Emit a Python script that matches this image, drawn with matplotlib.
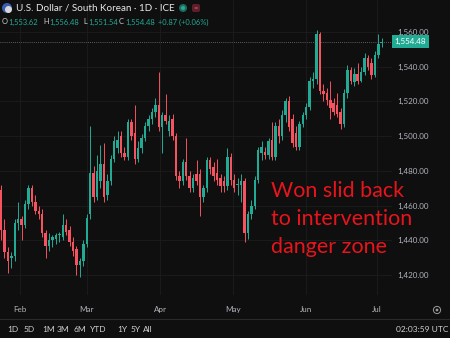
import numpy as np
import matplotlib.pyplot as plt
from matplotlib.patches import Circle, FancyBboxPatch

# daily candles, USD/KRW (oldest first)
opens = [1469, 1446, 1433, 1430, 1431, 1450, 1452, 1449, 1461, 1470,
         1462, 1457, 1455, 1444, 1437, 1440, 1441, 1443, 1442, 1449,
         1446, 1439, 1435, 1426, 1428, 1438, 1455, 1479, 1465, 1474,
         1484, 1466, 1474, 1487, 1493, 1500, 1490, 1488, 1508, 1502,
         1487, 1493, 1499, 1506, 1510, 1514, 1518, 1505, 1512, 1503,
         1510, 1500, 1477, 1474, 1485, 1477, 1470, 1478, 1478, 1465,
         1470, 1486, 1482, 1479, 1476, 1474, 1471, 1488, 1475, 1472,
         1472, 1474, 1444, 1455, 1460, 1475, 1490, 1491, 1489, 1498,
         1488, 1506, 1500, 1512, 1520, 1510, 1502, 1494, 1507, 1512,
         1517, 1532, 1533, 1559, 1526, 1525, 1521, 1519, 1518, 1514,
         1507, 1525, 1538, 1531, 1536, 1532, 1537, 1545, 1542, 1535,
         1547, 1553.62]
highs = [1472, 1452, 1436, 1433, 1452, 1462, 1454, 1463, 1472, 1472,
         1466, 1460, 1458, 1446, 1444, 1443, 1444, 1445, 1455, 1452,
         1448, 1442, 1437, 1430, 1440, 1455, 1506, 1483, 1489, 1495,
         1496, 1478, 1489, 1500, 1503, 1503, 1494, 1510, 1510, 1518,
         1497, 1501, 1508, 1512, 1516, 1522, 1537, 1514, 1524, 1512,
         1513, 1502, 1480, 1487, 1499, 1480, 1478, 1486, 1481, 1472,
         1488, 1488, 1485, 1487, 1478, 1477, 1493, 1490, 1478, 1476,
         1478, 1476, 1457, 1463, 1477, 1494, 1497, 1494, 1499, 1508,
         1508, 1510, 1515, 1522, 1523, 1513, 1506, 1509, 1514, 1519,
         1534, 1537, 1561, 1560, 1530, 1528, 1532, 1522, 1525, 1516,
         1527, 1541, 1540, 1539, 1542, 1540, 1548, 1547, 1545, 1549,
         1559, 1556.48]
lows = [1440, 1430, 1421, 1424, 1428, 1446, 1440, 1447, 1458, 1460,
        1455, 1452, 1442, 1430, 1434, 1436, 1438, 1439, 1440, 1443,
        1437, 1431, 1420, 1419, 1425, 1436, 1452, 1462, 1463, 1470,
        1462, 1463, 1472, 1485, 1490, 1488, 1486, 1486, 1498, 1484,
        1485, 1490, 1497, 1503, 1507, 1511, 1503, 1490, 1507, 1500,
        1498, 1475, 1470, 1472, 1475, 1468, 1468, 1472, 1454, 1462,
        1468, 1478, 1474, 1472, 1468, 1468, 1469, 1472, 1468, 1466,
        1462, 1439, 1441, 1452, 1458, 1473, 1486, 1487, 1487, 1486,
        1486, 1496, 1498, 1508, 1503, 1494, 1492, 1492, 1505, 1510,
        1515, 1528, 1530, 1524, 1520, 1518, 1510, 1512, 1511, 1504,
        1505, 1522, 1530, 1529, 1530, 1531, 1535, 1538, 1533, 1534,
        1545, 1551.54]
closes = [1446, 1433, 1428, 1431, 1450, 1452, 1449, 1461, 1470, 1462,
          1457, 1455, 1444, 1437, 1440, 1442, 1443, 1443, 1449, 1445,
          1439, 1434, 1426, 1428, 1438, 1453, 1479, 1465, 1480, 1484,
          1465, 1474, 1487, 1497, 1498, 1490, 1488, 1508, 1500, 1487,
          1493, 1499, 1506, 1510, 1514, 1518, 1505, 1512, 1509, 1509,
          1500, 1477, 1474, 1485, 1477, 1470, 1476, 1474, 1465, 1470,
          1486, 1481, 1477, 1475, 1471, 1471, 1488, 1475, 1470, 1472,
          1474, 1444, 1455, 1460, 1475, 1492, 1494, 1489, 1497, 1488,
          1506, 1500, 1512, 1520, 1505, 1496, 1494, 1507, 1512, 1517,
          1532, 1533, 1559, 1526, 1524, 1521, 1516, 1514, 1513, 1507,
          1525, 1538, 1532, 1536, 1532, 1537, 1545, 1540, 1535, 1547,
          1553, 1554.48]

month_labels = ['Feb', 'Mar', 'Apr', 'May', 'Jun', 'Jul']
month_pos = [5.4, 25, 46.4, 67.6, 89, 109.6]
price_ticks = [1420, 1440, 1460, 1480, 1500, 1520, 1540, 1560]
range_buttons = ['1D', '5D', '1M', '3M', '6M', 'YTD', '1Y', '5Y', 'All']
range_x = [7, 24, 42, 57, 73, 90, 117, 131, 143]
note_lines = ['Won slid back', 'to intervention', 'danger zone']

BG = '#0f0f0f'
UP, DOWN = '#22ab94', '#f7525f'
TXT = '#b2b5be'

plt.rcParams['font.family'] = ['Lato', 'DejaVu Sans']

fig = plt.figure(figsize=(4.5, 3.38), dpi=100, facecolor=BG)
ax = fig.add_axes([0, 43/338, 392/450, 295/338], facecolor=BG)

o, h, l, c = map(np.array, (opens, highs, lows, closes))
idx = np.arange(len(c))
col = np.where(c >= o, UP, DOWN)
body_lo = np.minimum(o, c)
body_h = np.maximum(np.abs(c - o), 0.6)

ax.vlines(idx, l, h, colors=col, lw=0.7, zorder=2)
ax.bar(idx, body_h, bottom=body_lo, width=0.72, color=col, lw=0, zorder=3)

ax.set_xlim(-0.3, 114)
ax.set_ylim(1408.5, 1578.4)

ax.set_xticks(month_pos)
ax.set_xticklabels(month_labels)
ax.set_yticks(price_ticks)
ax.set_yticklabels([f'{v:,.2f}' for v in price_ticks])
ax.yaxis.tick_right()
ax.tick_params(axis='x', length=0, pad=8, labelsize=5.8, colors=TXT)
ax.tick_params(axis='y', length=0, pad=4, labelsize=5.8, colors=TXT)
ax.grid(color='#1d1d1d', lw=0.6, zorder=0)
for s in ax.spines.values():
    s.set_visible(False)

# last price line + tag
ax.axhline(c[-1], color='#777777', ls=(0, (1, 1.5)), lw=0.6, zorder=1)
ax.text(1.006, c[-1], f'{c[-1]:,.2f}', transform=ax.get_yaxis_transform(),
        color='white', fontsize=5.8, va='center', ha='left', clip_on=False,
        bbox=dict(boxstyle='square,pad=0.35', fc=UP, ec='none'))

# overlay in pixel coords for header / toolbar / note
ov = fig.add_axes([0, 0, 1, 1])
ov.set_xlim(0, 450)
ov.set_ylim(338, 0)
ov.axis('off')

ov.add_patch(Circle((7, 8), 5, fc='#3a5fb0', ec='none'))
ov.add_patch(Circle((8.5, 9.5), 3.5, fc='#d8d8d8', ec='none'))
ov.text(16, 8, 'U.S. Dollar / South Korean · 1D · ICE', color='#e8e8e8',
        fontsize=7.1, va='center', ha='left')
ov.add_patch(Circle((183, 8), 4, fc='#1e6b5e', ec='none'))
ov.add_patch(Circle((183, 8), 2, fc=UP, ec='none'))
ov.add_patch(FancyBboxPatch((192, 4), 8, 8, boxstyle='round,pad=0,rounding_size=2',
                            fc='#5a1f2a', ec='none'))
ov.text(196, 8, '=', color=DOWN, fontsize=5.5, va='center', ha='center')

ohlc = [('O', 2, f'{o[-1]:,.2f}', 8), ('H', 43, f'{h[-1]:,.2f}', 49),
        ('L', 83, f'{l[-1]:,.2f}', 88), ('C', 119, f'{c[-1]:,.2f}', 125)]
for lab, lx, val, vx in ohlc:
    ov.text(lx, 22, lab, color='#d0d0d0', fontsize=5.4, va='center', ha='left')
    ov.text(vx, 22, val, color=UP, fontsize=5.4, va='center', ha='left')
ov.text(158, 22, '+0.87 (+0.06%)', color=UP, fontsize=5.4, va='center', ha='left')

# bottom toolbar
ov.plot([0, 450], [318.5, 318.5], color='#2a2a2a', lw=0.8)
for lab, x in zip(range_buttons, range_x):
    ov.text(x, 329, lab, color='#d0d0d0', fontsize=6.0, va='center', ha='left')
ov.text(448, 329, '02:03:59 UTC', color='#d0d0d0', fontsize=6.0, va='center', ha='right')
ov.add_patch(Circle((437, 310), 3.6, fc='none', ec='#9a9a9a', lw=0.7))
ov.add_patch(Circle((437, 310), 1.4, fc='#9a9a9a', ec='none'))

for k, line in enumerate(note_lines):
    ov.text(271, 197 + 28 * k, line, color='#e8141c', fontsize=15.5,
            va='baseline', ha='left')

fig.savefig('out.png', dpi=100, facecolor=BG)
